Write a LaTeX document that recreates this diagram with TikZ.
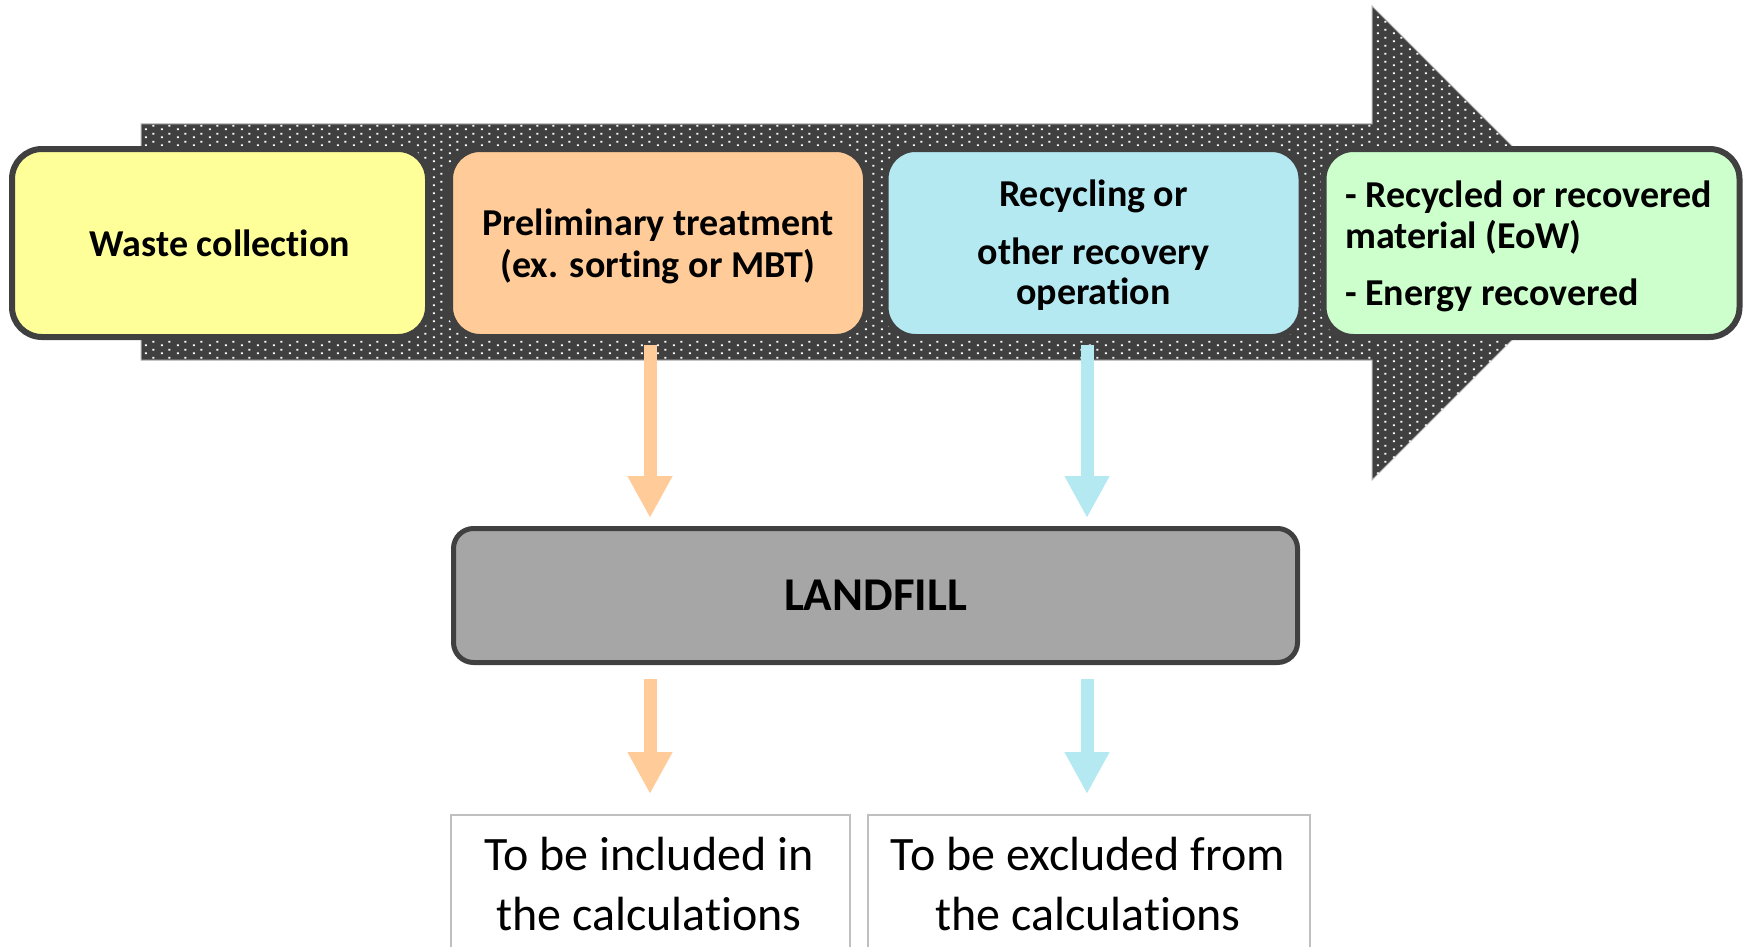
\documentclass[tikz,border=0pt]{standalone}
\usepackage{fontspec}
\setmainfont{Carlito}[Ligatures=NoCommon]
\usetikzlibrary{patterns,arrows.meta}
\definecolor{darkc}{HTML}{404040}
\definecolor{yellowc}{HTML}{FFFF99}
\definecolor{orangec}{HTML}{FFCC99}
\definecolor{bluec}{HTML}{B5E9F2}
\definecolor{greenc}{HTML}{CCFFCC}
\definecolor{landc}{HTML}{A6A6A6}
\definecolor{boxline}{HTML}{BFBFBF}
\pgfdeclarepatternformonly{wdots}{\pgfqpoint{0pt}{0pt}}{\pgfqpoint{16pt}{8pt}}{\pgfqpoint{16pt}{8pt}}{%
  \pgfpathrectangle{\pgfqpoint{1pt}{1pt}}{\pgfqpoint{2pt}{2pt}}%
  \pgfpathrectangle{\pgfqpoint{9pt}{5pt}}{\pgfqpoint{2pt}{2pt}}%
  \pgfusepath{fill}}
\tikzset{
  stagebox/.style={draw=darkc, line width=6pt, rounded corners=30pt, minimum width=416pt, minimum height=188pt, inner sep=0pt},
  boldtxt/.style={font=\fontsize{38}{42}\selectfont\bfseries, align=center, text=black},
  oarr/.style={draw=orangec, line width=13pt, -{Triangle[length=42pt,width=42pt]}},
  barr/.style={draw=bluec, line width=13pt, -{Triangle[length=42pt,width=42pt]}},
  resbox/.style={draw=boxline, line width=2pt, minimum height=220pt, anchor=north, outer sep=0pt, inner sep=0pt},
  restxt/.style={font=\fontsize{48}{59}\selectfont, align=center, text=black}
}
\begin{document}
\begin{tikzpicture}[x=1pt,y=-1pt]
\useasboundingbox (0,0) rectangle (1747,947);
\clip (0,0) rectangle (1747,947);
\fill[white] (0,0) rectangle (1747,947);
% big dotted arrow
\path[fill=darkc, draw=gray!60, line width=1pt] (141,124) -- (1372,124) -- (1372,6) -- (1609,243) -- (1372,480) -- (1372,360) -- (141,360) -- cycle;
\path[pattern=wdots, pattern color=white] (141,124) -- (1372,124) -- (1372,6) -- (1609,243) -- (1372,480) -- (1372,360) -- (141,360) -- cycle;
% stages
\node[stagebox, fill=yellowc, boldtxt] (collect) at (220,243) {Waste collection};
\node[stagebox, fill=orangec] (prelim) at (658,243) {};
\node[boldtxt] (prelimT) at (658,246.5) {Preliminary treatment\\(ex. sorting or MBT)};
\node[stagebox, fill=bluec] (recyc) at (1093.5,243) {};
\node[boldtxt, font=\fontsize{38}{40}\selectfont\bfseries] (recycT) at (1093.5,245.5) {Recycling or\\[18pt]other recovery\\operation};
\node[stagebox, fill=greenc] (result) at (1531.5,243) {};
\node[boldtxt, align=left, anchor=west, inner sep=0pt, font=\fontsize{38}{41}\selectfont\bfseries] (resultT) at (1345,246.5) {- Recycled or recovered\\material (EoW)\\[16pt]- Energy recovered};
% landfill
\node[draw=darkc, fill=landc, line width=5pt, rounded corners=20pt, minimum width=844pt, minimum height=134pt, font=\fontsize{47}{52}\selectfont\bfseries] (landfill) at (875.5,595.5) {LANDFILL};
% result boxes
\node[resbox, minimum width=399pt] (incl) at (650.5,815) {};
\node[resbox, minimum width=442pt] (excl) at (1089,815) {};
\node[restxt] (inclT) at (649,884) {To be included in\\the calculations};
\node[restxt] (exclT) at (1088,884) {To be excluded from\\the calculations};
% arrows
\coordinate (ox) at (650,0);
\coordinate (bx) at (1087,0);
\draw[oarr, shorten <=5pt, shorten >=8pt] (prelim.south -| ox) -- (landfill.north -| ox);
\draw[barr, shorten <=5pt, shorten >=8pt] (recyc.south -| bx) -- (landfill.north -| bx);
\draw[oarr, shorten <=14pt, shorten >=21pt] (landfill.south -| ox) -- (incl.north -| ox);
\draw[barr, shorten <=14pt, shorten >=21pt] (landfill.south -| bx) -- (excl.north -| bx);
\end{tikzpicture}
\end{document}
